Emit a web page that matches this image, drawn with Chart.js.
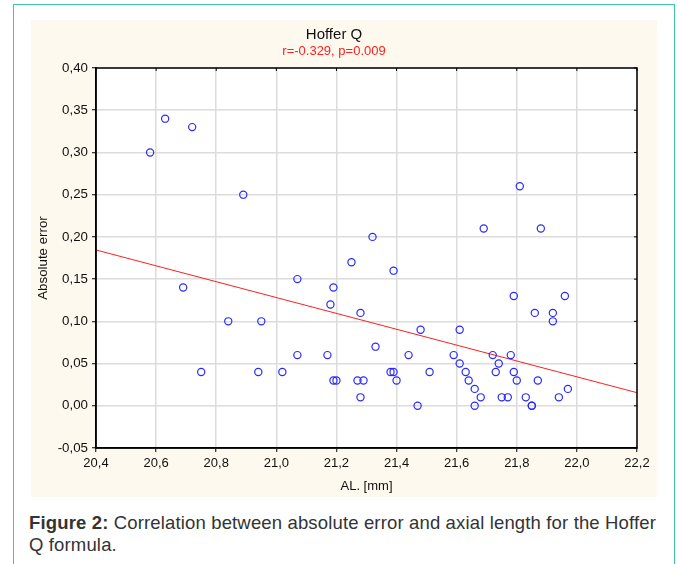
<!DOCTYPE html>
<html>
<head>
<meta charset="utf-8">
<script src="https://cdn.jsdelivr.net/npm/chart.js@4/dist/chart.umd.min.js"></script>
<style>
  html, body { margin: 0; padding: 0; background: #ffffff; }
  body { width: 677px; height: 564px; position: relative; overflow: hidden; font-family: "Liberation Sans", Arial, sans-serif; }
  #frame { position: absolute; left: 13px; top: 4px; width: 662px; height: 600px; border: 1.5px solid #3fc6ad; box-sizing: border-box; }
  #panel { position: absolute; left: 31px; top: 20px; width: 626px; height: 477px; background: #fef9ee; }
  #caption { position: absolute; left: 29px; top: 512px; width: 640px; font-size: 18.5px; letter-spacing: 0.15px; line-height: 22px; color: #333333; }
  #caption b { font-weight: bold; }
</style>
</head>
<body>
<div id="frame"></div>
<div id="panel"><canvas id="c" width="626" height="477"></canvas></div>
<div id="caption"><b>Figure 2:</b> Correlation between absolute error and axial length for the Hoffer Q formula.</div>
<script>
// Axial length (mm)
const alValues = [
  20.58, 20.63, 20.72, 20.69, 20.75, 20.89, 20.84, 20.95, 20.94, 21.02,
  21.07, 21.07, 21.17, 21.18, 21.19, 21.19, 21.20, 21.25, 21.27, 21.29,
  21.28, 21.28, 21.32, 21.33, 21.38, 21.39, 21.39, 21.40, 21.44, 21.47,
  21.48, 21.51, 21.59, 21.61, 21.61, 21.63, 21.64, 21.66, 21.66, 21.68,
  21.69, 21.72, 21.74, 21.73, 21.75, 21.77, 21.78, 21.79, 21.79, 21.80,
  21.81, 21.83, 21.85, 21.85, 21.86, 21.87, 21.88, 21.92, 21.92, 21.94,
  21.96, 21.97
];
// Absolute error
const errValues = [
  0.30, 0.34, 0.33, 0.14, 0.04, 0.25, 0.10, 0.10, 0.04, 0.04,
  0.15, 0.06, 0.06, 0.12, 0.14, 0.03, 0.03, 0.17, 0.03, 0.03,
  0.11, 0.01, 0.20, 0.07, 0.04, 0.04, 0.16, 0.03, 0.06, 0.00,
  0.09, 0.04, 0.06, 0.09, 0.05, 0.04, 0.03, 0.02, 0.00, 0.01,
  0.21, 0.06, 0.05, 0.04, 0.01, 0.01, 0.06, 0.13, 0.04, 0.03,
  0.26, 0.01, 0.00, 0.00, 0.11, 0.03, 0.21, 0.11, 0.10, 0.01,
  0.13, 0.02
];
// Regression line end points
const fitX = [20.4, 22.2];
const fitY = [0.1845, 0.0155];

const xTicks = [20.4, 20.6, 20.8, 21.0, 21.2, 21.4, 21.6, 21.8, 22.0, 22.2];
const yTicks = [-0.05, 0.00, 0.05, 0.10, 0.15, 0.20, 0.25, 0.30, 0.35, 0.40];

const titleText = "Hoffer Q";
const subtitleText = "r=-0.329, p=0.009";
const xTitle = "AL. [mm]";
const yTitle = "Absolute error";

const points = alValues.map((x, i) => ({ x: x, y: errValues[i] }));
const fitLine = fitX.map((x, i) => ({ x: x, y: fitY[i] }));

const boxPlugin = {
  id: 'box',
  beforeDraw(chart) {
    const { ctx, chartArea: a } = chart;
    ctx.save();
    ctx.fillStyle = '#ffffff';
    ctx.fillRect(a.left, a.top, a.right - a.left, a.bottom - a.top);
    ctx.restore();
  },
  afterDatasetsDraw(chart) {
    const { ctx, chartArea: a, scales } = chart;
    ctx.save();
    ctx.strokeStyle = '#000';
    ctx.lineWidth = 1.5;
    ctx.strokeRect(a.left, a.top, a.right - a.left, a.bottom - a.top);
    ctx.lineWidth = 1;
    xTicks.forEach(v => {
      const px = scales.x.getPixelForValue(v);
      ctx.beginPath(); ctx.moveTo(px, a.top); ctx.lineTo(px, a.top + 3); ctx.stroke();
    });
    yTicks.forEach(v => {
      const py = scales.y.getPixelForValue(v);
      ctx.beginPath(); ctx.moveTo(a.right, py); ctx.lineTo(a.right - 3, py); ctx.stroke();
    });
    ctx.restore();
  }
};

const fontFam = '"Liberation Sans", Arial, sans-serif';

new Chart(document.getElementById('c'), {
  type: 'scatter',
  data: {
    datasets: [
      {
        label: 'AE',
        data: points,
        pointStyle: 'circle',
        pointRadius: 3.6,
        pointBorderWidth: 1.2,
        borderColor: '#2a2aff',
        backgroundColor: 'rgba(0,0,0,0)',
        order: 1
      },
      {
        type: 'line',
        label: 'fit',
        data: fitLine,
        borderColor: '#ff1f1f',
        borderWidth: 1,
        pointRadius: 0,
        fill: false,
        order: 2
      }
    ]
  },
  options: {
    responsive: false,
    animation: false,
    layout: { padding: { left: 0, right: 20, top: 0, bottom: 0 } },
    plugins: {
      legend: { display: false },
      tooltip: { enabled: false },
      title: {
        display: true, text: titleText, color: '#111',
        font: { family: fontFam, size: 15, weight: 'normal' },
        padding: { top: 6, bottom: 0 }
      },
      subtitle: {
        display: true, text: subtitleText, color: '#ff2020',
        font: { family: fontFam, size: 13, weight: 'normal' },
        padding: { top: 0, bottom: 8.4 }
      }
    },
    scales: {
      x: {
        type: 'linear', min: 20.4, max: 22.2,
        afterBuildTicks: s => { s.ticks = xTicks.map(v => ({ value: v })); },
        afterFit: s => { s.height = 49; },
        ticks: {
          color: '#111', font: { family: fontFam, size: 13 }, padding: 3.2,
          maxRotation: 0, autoSkip: false,
          callback: v => Number(v).toFixed(1).replace('.', ',')
        },
        grid: { color: '#dcdcdc', lineWidth: 1.5, tickLength: 4, tickColor: '#000', tickWidth: 1 },
        border: { color: '#000', width: 1.5 },
        title: { display: true, text: xTitle, color: '#111', font: { family: fontFam, size: 13 }, padding: { top: 0, bottom: 3.2 } }
      },
      y: {
        type: 'linear', min: -0.05, max: 0.40,
        afterBuildTicks: s => { s.ticks = yTicks.map(v => ({ value: v })); },
        afterFit: s => { s.width = 65; },
        ticks: {
          color: '#111', font: { family: fontFam, size: 13.3 }, padding: 4, autoSkip: false,
          callback: v => Number(v).toFixed(2).replace('.', ',')
        },
        grid: { color: '#dcdcdc', lineWidth: 1.5, tickLength: 4, tickColor: '#000', tickWidth: 1 },
        border: { color: '#000', width: 1.5 },
        title: { display: true, text: yTitle, color: '#111', font: { family: fontFam, size: 13.3 }, padding: { top: 4.3, bottom: 0 } }
      }
    }
  },
  plugins: [boxPlugin]
});
</script>
</body>
</html>
